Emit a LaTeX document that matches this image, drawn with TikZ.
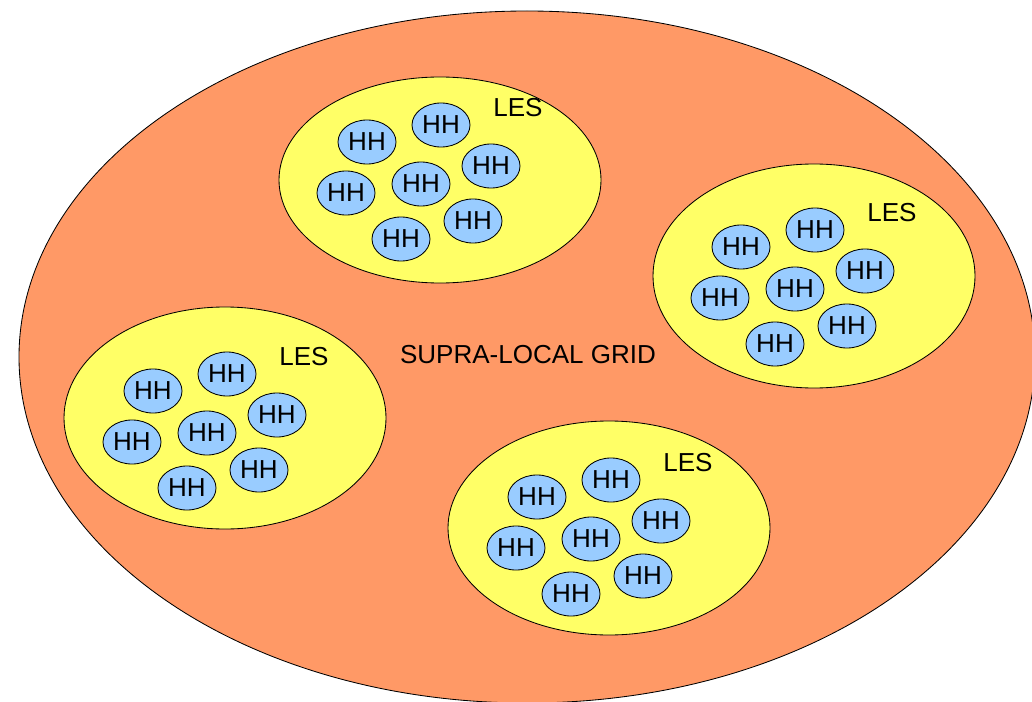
\documentclass[tikz,border=0pt]{standalone}
\usepackage{fontspec}
\setmainfont{Liberation Sans}
\usetikzlibrary{shapes.geometric}
\definecolor{gridorange}{RGB}{255,153,102}
\definecolor{lesyellow}{RGB}{255,255,102}
\definecolor{hhblue}{RGB}{153,204,255}

\begin{document}
\begin{tikzpicture}[x=0.025cm, y=-0.025cm,
                grid style/.style={draw, line width=0.6pt, fill=gridorange},
                les style/.style={draw, line width=0.6pt, fill=lesyellow},
                hh style/.style={ellipse, draw, line width=0.6pt, fill=hhblue,
                    minimum width=1.45cm, minimum height=1.1cm, inner sep=0pt,
                    font=\fontsize{18.5}{20}\selectfont},
                label style/.style={font=\fontsize{18.5}{20}\selectfont, inner sep=0pt}]

            \useasboundingbox (0, 0) rectangle (1032, 702);
            \clip (0, 0) rectangle (1032, 702);

            % supra-local grid
            \draw[grid style] (527, 357) ellipse [x radius=508, y radius=346];
            \node[label style] (grid) at (528, 355) {SUPRA-LOCAL GRID};

            % local energy systems with their households
            \foreach \gx/\gy/\lx/\ly/\ry/\gname in {421/184/440/180/103/top, 795/289/814/276/112/right,
                                                    207/433/225/418/111/left, 591/539/609/528/107/bottom} {
                \draw[les style] (\lx, \ly) ellipse [x radius=161, y radius=\ry];
                \begin{scope}[shift={(\gx, \gy)}]
                    \node[label style] (\gname-les) at (97, -76) {LES};
                    \node[hh style] (\gname-hh1) at (-54, -42) {HH};
                    \node[hh style] (\gname-hh2) at (20, -59) {HH};
                    \node[hh style] (\gname-hh3) at (70, -18) {HH};
                    \node[hh style] (\gname-hh4) at (-75, 9) {HH};
                    \node[hh style] (\gname-hh5) at (0, 0) {HH};
                    \node[hh style] (\gname-hh6) at (52, 37) {HH};
                    \node[hh style] (\gname-hh7) at (-20, 55) {HH};
                \end{scope}
            }
        \end{tikzpicture}
\end{document}
